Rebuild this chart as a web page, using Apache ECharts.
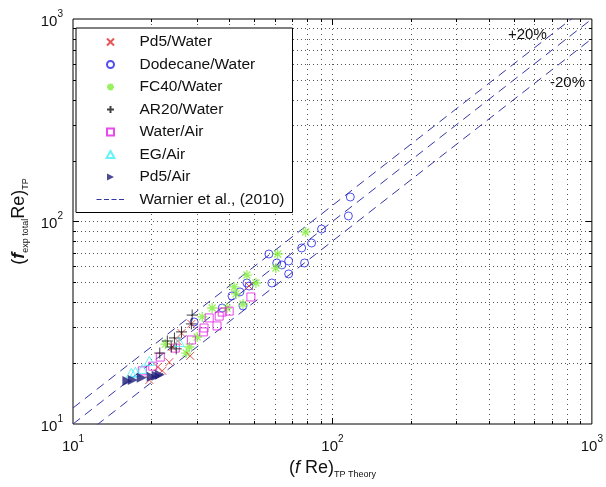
<!DOCTYPE html>
<html><head><meta charset="utf-8">
<script src="https://cdn.jsdelivr.net/npm/echarts@6/dist/echarts.min.js"></script>
<style>html,body{margin:0;padding:0;background:#fff}#c{width:606px;height:487px}</style>
</head><body><div id="c"></div>
<script>
// ---- data ----
const pd5WaterX = [47.7, 28.6, 26.2, 28.3, 23.5, 21.2, 19.7, 24.2, 25.3, 22.1];
const pd5WaterY = [48.0, 31.2, 28.1, 21.7, 20.2, 19.1, 16.5, 24.0, 25.7, 18.3];
const dodecaneX = [117.2, 115.2, 90.8, 83.1, 76.1, 56.9, 67.8, 63.8, 61.0, 78.1, 67.8, 58.4, 46.8, 47.7, 44.0, 41.0, 37.6, 29.3, 45.2];
const dodecaneY = [132.1, 106.5, 91.8, 78.3, 74.0, 69.1, 63.8, 61.0, 62.4, 62.4, 55.1, 49.7, 49.7, 48.0, 44.9, 42.9, 37.4, 31.9, 38.3];
const fc40X = [78.8, 61.5, 60.5, 46.8, 50.7, 41.8, 42.5, 45.2, 34.4, 39.2, 31.5, 30.1, 22.7, 27.3, 28.1];
const fc40Y = [88.7, 69.1, 58.9, 54.4, 49.7, 47.5, 43.9, 39.1, 37.4, 37.4, 33.8, 26.9, 24.8, 22.4, 24.0];
const ar20X = [28.8, 28.6, 26.2, 24.6, 23.9, 25.0, 21.6, 23.1];
const ar20Y = [34.5, 31.2, 28.5, 26.6, 24.0, 23.5, 22.4, 25.7];
const waterAirX = [48.5, 40.0, 36.6, 37.6, 33.5, 35.9, 32.0, 31.8, 28.6, 24.8, 21.7, 18.5, 20.3];
const waterAirY = [42.4, 36.1, 34.1, 35.7, 33.4, 30.5, 29.8, 28.5, 26.0, 23.7, 21.4, 18.3, 19.3];
const egAirX = [19.7, 16.8, 18.5, 25.7, 17.4];
const egAirY = [20.5, 17.9, 18.7, 25.4, 18.1];
const pd5AirX = [16.2, 17.0, 18.4, 20.1, 21.0, 21.6];
const pd5AirY = [16.3, 16.5, 16.9, 17.1, 17.3, 17.5];
const refX = [10, 1000];
const refPlus20 = [12, 1200];
const refEqual = [10, 1000];
const refMinus20 = [8, 800];
const gridTicks = [20, 30, 40, 50, 60, 70, 80, 90, 100, 200, 300, 400, 500, 600, 700, 800, 900];

const names = ['Pd5/Water', 'Dodecane/Water', 'FC40/Water', 'AR20/Water', 'Water/Air', 'EG/Air', 'Pd5/Air', 'Warnier et al., (2010)'];

const zip = (a, b) => a.map((v, i) => [v, b[i]]);
const FONT = 'Liberation Sans';

function isMajor(v) { const l = Math.log10(v); return Math.abs(l - Math.round(l)) < 1e-9; }

function vGrid(params, api) {
  const cs = params.coordSys;
  const x = Math.round(api.coord([api.value(0), 100])[0]) + 0.5;
  const top = cs.y, bot = cs.y + cs.height;
  const len = isMajor(api.value(0)) ? 6 : 3;
  return { type: 'group', children: [
    { type: 'line', shape: { x1: x, y1: top, x2: x, y2: bot }, style: { stroke: '#555', lineWidth: 1, lineDash: [1, 4] } },
    { type: 'line', shape: { x1: x, y1: bot, x2: x, y2: bot - len }, style: { stroke: '#000', lineWidth: 1 } },
    { type: 'line', shape: { x1: x, y1: top, x2: x, y2: top + len }, style: { stroke: '#000', lineWidth: 1 } }
  ]};
}
function hGrid(params, api) {
  const cs = params.coordSys;
  const y = Math.round(api.coord([100, api.value(1)])[1]) + 0.5;
  const l = cs.x, r = cs.x + cs.width;
  const len = isMajor(api.value(1)) ? 6 : 3;
  return { type: 'group', children: [
    { type: 'line', shape: { x1: l, y1: y, x2: r, y2: y }, style: { stroke: '#555', lineWidth: 1, lineDash: [1, 3] } },
    { type: 'line', shape: { x1: l, y1: y, x2: l + len, y2: y }, style: { stroke: '#000', lineWidth: 1 } },
    { type: 'line', shape: { x1: r, y1: y, x2: r - len, y2: y }, style: { stroke: '#000', lineWidth: 1 } }
  ]};
}

const labelRich = {
  b: { fontFamily: FONT, fontSize: 15, color: '#111', lineHeight: 20, verticalAlign: 'bottom' },
  s: { fontFamily: FONT, fontSize: 10, color: '#111', lineHeight: 20, verticalAlign: 'top' }
};
const powFmt = v => '{b|10}{s|' + Math.round(Math.log10(v)) + '}';

const lineStyleRef = { color: '#3535a5', width: 1, type: [9, 6] };

const pathX = 'path://M0,0L10,10M10,0L0,10';
const pathPlus = 'path://M5,0L5,10M0,5L10,5';
const pathStar = 'path://M5,0L5,10M0,5L10,5M1.5,1.5L8.5,8.5M8.5,1.5L1.5,8.5';
const pathRightTri = 'path://M0,0L10,5L0,10Z';
const pathSquare = 'path://M0,0L10,0L10,10L0,10Z';
const pathTri = 'path://M5,0L10,9L0,9Z';

const legendData = names.map((n, i) => i === 7
  ? { name: n, itemStyle: { color: 'transparent', borderColor: 'transparent', borderWidth: 0 }, lineStyle: { type: [5, 2.5], width: 1 } }
  : { name: n });

const chart = echarts.init(document.getElementById('c'), null, { renderer: 'canvas' });
chart.setOption({
  animation: false,
  backgroundColor: '#fff',
  grid: { left: 73, right: 11, top: 19, bottom: 63, show: true, borderColor: '#000', borderWidth: 1, backgroundColor: 'transparent' },
  xAxis: {
    type: 'log', logBase: 10, min: 10, max: 1000, interval: 1,
    axisLine: { show: false }, axisTick: { show: false }, splitLine: { show: false },
    axisLabel: { formatter: powFmt, rich: labelRich, margin: 10 },
    name: '{p|(}{i|f}{p| Re)}{s|TP Theory}', nameLocation: 'middle', nameGap: 32,
    nameTextStyle: { rich: {
      p: { fontFamily: FONT, fontSize: 18, color: '#111', lineHeight: 22, verticalAlign: 'middle' },
      i: { fontFamily: FONT, fontSize: 18, fontStyle: 'italic', color: '#111', lineHeight: 22, verticalAlign: 'middle' },
      s: { fontFamily: FONT, fontSize: 9, color: '#111', lineHeight: 22, verticalAlign: 'bottom' }
    } }
  },
  yAxis: {
    type: 'log', logBase: 10, min: 10, max: 1000, interval: 1,
    axisLine: { show: false }, axisTick: { show: false }, splitLine: { show: false },
    axisLabel: { formatter: powFmt, rich: labelRich, margin: 10 },
    name: '{p|(}{i|f}{s|exp total}{p|Re)}{s|TP}', nameLocation: 'middle', nameGap: 32, nameRotate: 90,
    nameTextStyle: { rich: {
      p: { fontFamily: FONT, fontSize: 18, color: '#111', lineHeight: 22, verticalAlign: 'middle' },
      i: { fontFamily: FONT, fontSize: 18, fontStyle: 'italic', fontWeight: 'bold', color: '#111', lineHeight: 22, verticalAlign: 'middle' },
      s: { fontFamily: FONT, fontSize: 9, color: '#111', lineHeight: 22, verticalAlign: 'bottom' }
    } }
  },
  legend: {
    orient: 'vertical', left: 76, top: 28,
    padding: [6, 8, 5, 20], itemGap: 6.5, itemWidth: 28, itemHeight: 7,
    backgroundColor: '#fff', borderColor: '#000', borderWidth: 1,
    textStyle: { fontFamily: FONT, fontSize: 15.5, color: '#111', lineHeight: 16, padding: [0, 0, 0, 10] },
    data: legendData, selectedMode: false
  },
  graphic: [
    { type: 'text', left: 508, top: 27, style: { text: '+20%', font: '15px "Liberation Sans"', fill: '#111' }, z: 100 },
    { type: 'text', left: 550, top: 75, style: { text: '-20%', font: '15px "Liberation Sans"', fill: '#111' }, z: 100 }
  ],
  series: [
    { type: 'custom', renderItem: vGrid, data: gridTicks.map(v => [v, 100]), z: 1, silent: true, clip: false },
    { type: 'custom', renderItem: hGrid, data: gridTicks.map(v => [100, v]), z: 1, silent: true, clip: false },
    { name: names[7], type: 'line', data: zip(refX, refPlus20), symbol: 'none', lineStyle: lineStyleRef, itemStyle: { color: '#3535a5' }, z: 2 },
    { name: names[7], type: 'line', data: zip(refX, refEqual), symbol: 'none', lineStyle: lineStyleRef, itemStyle: { color: '#3535a5' }, z: 2 },
    { name: names[7], type: 'line', data: zip(refX, refMinus20), symbol: 'none', lineStyle: lineStyleRef, itemStyle: { color: '#3535a5' }, z: 2 },
    { name: names[1], type: 'scatter', data: zip(dodecaneX, dodecaneY), symbol: 'circle', symbolSize: 8, symbolKeepAspect: true, itemStyle: { color: 'transparent', borderColor: '#2323ee', borderWidth: 1 }, z: 3 },
    { name: names[2], type: 'scatter', data: zip(fc40X, fc40Y), symbol: pathStar, symbolSize: 10, symbolKeepAspect: true, itemStyle: { color: '#7fee3a', borderColor: '#7fee3a', borderWidth: 1.3 }, z: 3 },
    { name: names[4], type: 'scatter', data: zip(waterAirX, waterAirY), symbol: pathSquare, symbolSize: 8, symbolKeepAspect: true, itemStyle: { color: 'transparent', borderColor: '#e51de5', borderWidth: 1 }, z: 3 },
    { name: names[0], type: 'scatter', data: zip(pd5WaterX, pd5WaterY), symbol: pathX, symbolSize: 8, symbolKeepAspect: true, itemStyle: { color: '#dd2b2b', borderColor: '#dd2b2b', borderWidth: 1 }, z: 3 },
    { name: names[3], type: 'scatter', data: zip(ar20X, ar20Y), symbol: pathPlus, symbolSize: 11, symbolKeepAspect: true, itemStyle: { color: '#111', borderColor: '#111', borderWidth: 1 }, z: 3 },
    { name: names[5], type: 'scatter', data: zip(egAirX, egAirY), symbol: pathTri, symbolSize: 10, symbolKeepAspect: true, itemStyle: { color: 'transparent', borderColor: '#3ff0f5', borderWidth: 1 }, z: 3 },
    { name: names[6], type: 'scatter', data: zip(pd5AirX, pd5AirY), symbol: pathRightTri, symbolSize: 10, symbolKeepAspect: true, itemStyle: { color: '#1d1d7a' }, z: 3 }
  ]
});
</script></body></html>
